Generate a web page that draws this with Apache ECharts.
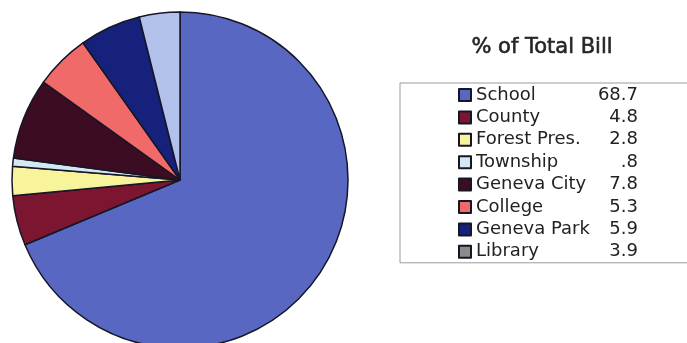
<!DOCTYPE html>
<html>
<head>
<meta charset="utf-8">
<script src="https://cdn.jsdelivr.net/npm/echarts@6/dist/echarts.min.js"></script>
<style>
  html, body { margin: 0; padding: 0; background: #ffffff; }
  #chart { width: 687px; height: 343px; }
</style>
</head>
<body>
<div id="chart"></div>
<script>
// Share of the total property tax bill by taxing body
const categories = ['School', 'County', 'Forest Pres.', 'Township', 'Geneva City', 'College', 'Geneva Park', 'Library'];
const shares = [68.7, 4.8, 2.8, 0.8, 7.8, 5.3, 5.9, 3.9];
const sliceColors = ['#5868c2', '#7c1630', '#f8f49c', '#d2e8f2', '#3c0c22', '#f06a6a', '#15217a', '#b2c2ec'];
// legend swatch for Library is drawn in grey
const legendSwatch = { 'Library': '#8c8c8c' };

const fmtShare = v => String(v).replace(/^0\./, '.');

const chart = echarts.init(document.getElementById('chart'), null, { renderer: 'canvas' });

chart.setOption({
  backgroundColor: '#ffffff',
  animation: false,
  title: {
    text: '% of Total Bill',
    left: 537,
    top: 32,
    textAlign: 'center',
    textStyle: {
      fontFamily: 'DejaVu Sans',
      fontSize: 21,
      fontWeight: 'normal',
      color: '#262626',
      textBorderColor: '#262626',
      textBorderWidth: 0.6
    }
  },
  legend: {
    orient: 'vertical',
    left: 400,
    top: 83,
    padding: [3, 60, 2, 58],
    borderColor: '#9a9a9a',
    borderWidth: 1,
    itemWidth: 12,
    itemHeight: 12,
    itemGap: 4.4,
    icon: 'rect',
    selectedMode: false,
    data: categories.map(name => legendSwatch[name]
      ? { name, itemStyle: { color: legendSwatch[name] } }
      : { name }),
    formatter: name => '{n|' + name + '}{v|' + fmtShare(shares[categories.indexOf(name)]) + '}',
    textStyle: {
      fontFamily: 'DejaVu Sans',
      fontSize: 18,
      color: '#222222',
      rich: {
        n: { width: 112, fontFamily: 'DejaVu Sans', fontSize: 18, color: '#222222' },
        v: { width: 50, align: 'right', fontFamily: 'DejaVu Sans', fontSize: 18, color: '#222222' }
      }
    }
  },
  series: [{
    type: 'pie',
    center: [180, 180],
    radius: 168,
    startAngle: 90,
    clockwise: true,
    label: { show: false },
    labelLine: { show: false },
    emphasis: { disabled: true },
    itemStyle: { borderColor: '#161626', borderWidth: 1.5 },
    data: categories.map((name, i) => ({
      name,
      value: shares[i],
      itemStyle: { color: sliceColors[i] }
    }))
  }]
});
</script>
</body>
</html>
